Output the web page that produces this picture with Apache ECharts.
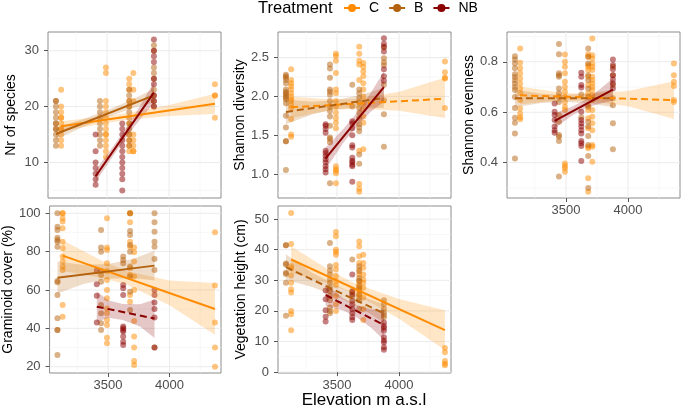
<!DOCTYPE html>
<html><head><meta charset="utf-8">
<script src="https://cdn.jsdelivr.net/npm/echarts@6/dist/echarts.min.js"></script>
<style>html,body{margin:0;padding:0;background:#fff}#c{width:685px;height:409px}</style>
</head><body><div id="c"></div>
<script>
// ---------- DATA ----------
const treatments = ['C', 'B', 'NB'];
const xRange = [3024, 4419];
const xMajor = [3500, 4000];
const xMinor = [3250, 3750, 4250];

// Nr of species
const spC = [[3130,[23,20,19,18,18,17,16,16,15,14,13]],[3491,[27,26,21,20,19,18,17,16,15,15,14,13,12,11]],[3679,[25,24,23,21,20,17,15,14,13,12]],[3712,[26,23,21,15,14,13,12,12]],[4370,[24,22,22,18]]];
const spB = [[3088,[21,21,20,19,18,17,17,16,16,15,14,13]],[3443,[21,20,19,18,17,16,15,14,13]],[3679,[23,22,21,20,19,18,17,16,15,14,13]],[3878,[31,30,27,26,25,23,22,21,20]]];
const spNB = [[3408,[15,12,10,9,8,7,6]],[3623,[17,16,15,14,13,12,11,10,9,8,7,5]],[3878,[32,30,29,28,25,24,22,21,20]]];
const spFitC = [[3130,16.5],[4370,20.5]], spFitB = [[3088,15.1],[3878,22.0]], spFitNB = [[3408,7.55],[3878,22.5]];
const spBandC = [[3130,15.6,17.4],[3450,16.9,18.2],[3650,17.6,18.8],[4000,18.3,20.3],[4370,18.7,22.3]];
const spBandB = [[3088,14.05,16.15],[3300,16.3,17.7],[3500,18.1,19.35],[3700,19.65,21.25],[3878,20.8,23.2]];
const spBandNB = [[3408,6.5,8.6],[3550,11.2,12.9],[3650,14.45,16.0],[3780,18.1,20.6],[3878,20.6,24.4]];
const spYMajor = [10,20,30], spYMinor = [5,15,25], spYRange = [3.65,33.35];

// Shannon diversity
const dvC = [[3130,[2.35,2.21,2.17,2.13,2.09,2.04,2.0,1.96,1.94,1.89,1.85,1.71,1.51,1.48]],[3491,[2.55,2.52,2.46,2.30,2.09,2.04,1.94,1.87,1.79,1.72,1.66,1.59,1.10,1.06,1.04,1.01,0.88]],[3679,[2.64,2.55,2.46,2.41,2.21,1.30,0.87,0.81,0.77]],[3712,[2.43,2.38,2.32,2.26,2.17,2.09,2.0,1.91,1.83,1.74,1.66,1.32]],[4370,[2.45,2.31,2.24,2.23,1.85]]];
const dvB = [[3088,[2.28,2.26,2.24,2.21,2.17,2.09,2.06,2.04,2.02,2.0,1.98,1.96,1.91,1.75,1.60,1.42,1.42,1.05]],[3443,[2.41,2.36,2.24,2.09,2.06,2.02,1.94,1.87,1.81,1.74,1.62,1.47,1.45,1.41,0.88]],[3623,[2.15,1.87]],[3679,[2.09,2.04,1.98,1.92,1.85,1.79,1.72,1.64,1.60,1.55,1.25,1.13]],[3878,[2.63,2.49,2.44,2.40,2.15,1.95,1.77,1.35]]];
const dvNB = [[3408,[1.64,1.62,1.58,1.53,1.30,1.27,1.23,1.19,1.15,1.10,1.06,1.02]],[3623,[1.68,1.65,1.59,1.50,1.37,1.34,1.21,1.17,1.15,1.12,1.10,0.90]],[3878,[2.75,2.68,2.64,2.58,2.35,2.26,2.20]]];
const dvFitC = [[3130,1.86],[4370,1.97]], dvFitB = [[3088,1.80],[3878,1.98]], dvFitNB = [[3408,1.20],[3878,2.12]];
const dvBandC = [[3130,1.72,2.0],[3450,1.82,1.96],[3650,1.845,1.965],[4000,1.815,2.06],[4370,1.72,2.24]];
const dvBandB = [[3088,1.64,1.96],[3300,1.77,1.93],[3480,1.83,1.95],[3700,1.86,2.02],[3878,1.85,2.11]];
const dvBandNB = [[3408,1.06,1.34],[3550,1.40,1.58],[3650,1.60,1.765],[3770,1.80,2.04],[3878,1.93,2.32]];
const dvYMajor = [1.0,1.5,2.0,2.5], dvYMinor = [0.75,1.25,1.75,2.25,2.75], dvYRange = [0.69,2.83];

// Shannon evenness
const evC = [[3130,[0.853,0.796,0.774,0.754,0.734,0.714,0.694,0.675,0.648,0.615,0.595,0.58,0.572]],[3491,[0.829,0.80,0.78,0.754,0.721,0.70,0.681,0.661,0.641,0.622,0.609,0.397,0.387,0.378,0.364]],[3679,[0.83,0.82,0.787,0.78,0.767,0.741,0.708,0.675,0.628,0.609,0.576,0.536,0.463,0.457,0.338,0.285]],[3712,[0.892,0.826,0.813,0.793,0.78,0.767,0.741,0.727,0.714,0.70,0.688,0.668,0.648,0.609,0.582,0.556,0.529,0.47,0.463,0.404]],[4370,[0.793,0.747,0.721,0.704,0.648,0.641]]];
const evB = [[3088,[0.822,0.809,0.793,0.774,0.751,0.74,0.727,0.714,0.70,0.688,0.66,0.617,0.578,0.558,0.516,0.417]],[3443,[0.87,0.83,0.754,0.747,0.741,0.694,0.675,0.661,0.641,0.589,0.562,0.51,0.503,0.486,0.345]],[3623,[0.67,0.58]],[3679,[0.853,0.82,0.793,0.747,0.727,0.694,0.661,0.622,0.562,0.543,0.506,0.47,0.426,0.30]],[3878,[0.78,0.747,0.708,0.655,0.628,0.556,0.453]]];
const evNB = [[3408,[0.635,0.602,0.589,0.569,0.543,0.529,0.519]],[3623,[0.756,0.741,0.708,0.698,0.602,0.569,0.556,0.543,0.529,0.516,0.486,0.477,0.466,0.407]],[3878,[0.809,0.787,0.77,0.747,0.73,0.714,0.694]]];
const evFitC = [[3130,0.667],[4370,0.648]], evFitB = [[3088,0.655],[3878,0.655]], evFitNB = [[3408,0.566],[3878,0.69]];
const evBandC = [[3130,.632,.702],[3450,.646,.678],[3650,.646,.672],[4000,.624,.684],[4370,.573,.723]];
const evBandB = [[3088,.62,.69],[3300,.637,.673],[3480,.642,.668],[3700,.635,.675],[3878,.62,.69]];
const evBandNB = [[3408,.536,.596],[3550,.587,.623],[3650,.615,.647],[3770,.634,.69],[3878,.645,.735]];
const evYMajor = [0.4,0.6,0.8], evYMinor = [0.3,0.5,0.7,0.9], evYRange = [0.26,0.918];

// Graminoid cover
const grC = [[3130,[100,100,97.4,95.7,92.2,85.2,81.7,77.4,74.8,72.2,70.4,52.2,46.1]],[3491,[97.4,82.1,80.9,73.9,69.9,65.2,60,55.7,50.4,47.8,44.3,41.7,35.1,32.2]],[3679,[100,100,95.3,85.2,82.6,71.3,67.8,57.4,53.9]],[3712,[82.1,79.7,74.8,67,60,43.8,35.7,30,23,20.9]],[4370,[90.1,62.3,43.1,30,20]]];
const grB = [[3088,[100,93,91.3,87.3,86.1,85.2,82.6,64.7,64,57.4,45.2,39.1,39.1,26.1]],[3443,[91.3,82.1,80,69.9,67.8,64.3,52.2,47.8,42.6,39.1]],[3623,[77.4,75.7,73.9]],[3679,[100,90.8,88.7,83.5,80,72.2,67,59.1,49.6]],[3878,[100,95.3,90.4,85.2,82.6,76.2,70.4,30]]];
const grNB = [[3408,[70,63,57,43]],[3623,[62.6,60.9,57.4,40.9,40,39.1,38.3,35.7,33,31.3]],[3878,[60,57.4,53.5,50.1,45.6,30]]];
const grFitC = [[3130,77.9],[4370,50.1]], grFitB = [[3088,66.4],[3878,72.7]], grFitNB = [[3408,51.3],[3878,45.1]];
const grBandC = [[3130,69.9,85.9],[3450,66.3,75.3],[3650,62.9,69.9],[4000,52,65],[4370,36.6,63.6]];
const grBandB = [[3088,58.1,74.7],[3300,63.1,73.1],[3500,65.9,73.5],[3700,66.2,76.2],[3878,64.9,80.5]];
const grBandNB = [[3408,43.3,59.3],[3500,45.5,54.7],[3620,44.3,52.7],[3760,40.9,52.5],[3878,35,55]];
const grYMajor = [20,40,60,80,100], grYMinor = [30,50,70,90], grYRange = [16.7,103.8];

// Vegetation height
const vhC = [[3130,[52,41.9,34.6,33.9,31.6,29.2,27.1,26,20,18.9,13.7]],[3491,[45.8,44.4,40,39.3,38.4,35,33.5,31.4,29.8,28.5,24.9,22.2,20]],[3679,[42.7,41.1,37.9,35.7,33.5,31.9,29.8,28.7,27.6,26.5,25.4,24.4]],[3712,[38.4,35.7,34.1,31.9,30.3,29.2,27.6,24.4,20.6,17]],[4370,[7.9,6.5,3.6,2.7,2.2]]];
const vhB = [[3088,[41.5,41.5,35.5,35.2,32.5,32.1,29.2,18.4]],[3443,[42.2,34.6,33.2,31.9,30.3,29.2,27.6,26.5,24.9,23.5,21.1,20,19.2]],[3623,[36.8,26.5,24.9]],[3679,[34.6,33,30.8,29.8,28.1,27.1,25.4,23.5,20.6]],[3878,[23.5,22.2,20.6,19.5,18.7,17.9]]];
const vhNB = [[3408,[26.7,23.8,20.2,18.1,16.5]],[3623,[31.9,26.3,25.4,23.3,22.2,20.6,19.2,17.9,17]],[3878,[16.2,15.1,14.4,13.5,11.4,10.3,9.7,8.1,7.3]]];
const vhFitC = [[3130,36.8],[4370,13.7]], vhFitB = [[3088,34.3],[3878,19.2]], vhFitNB = [[3408,25.2],[3878,15.4]];
const vhBandC = [[3130,32.5,41.1],[3450,28.65,33.05],[3650,25.45,28.85],[4000,17.47,23.87],[4370,7.2,20.2]];
const vhBandB = [[3088,30.1,38.5],[3300,27.84,32.44],[3500,24.61,28.21],[3700,20.69,24.69],[3878,16.2,22.2]];
const vhBandNB = [[3408,21.6,28.8],[3550,20.14,24.14],[3650,18.2,22],[3770,14.65,20.65],[3878,10.5,20.3]];
const vhYMajor = [0,10,20,30,40,50], vhYMinor = [5,15,25,35,45], vhYRange = [-0.3,54.3];

const panelNames = ['Nr of species','Shannon diversity','Shannon evenness','Graminoid cover (%)','Vegetation height (cm)'];

// ---------- ASSEMBLY ----------
const panels = [
  {pts:{C:spC,B:spB,NB:spNB}, fit:{C:spFitC,B:spFitB,NB:spFitNB}, band:{C:spBandC,B:spBandB,NB:spBandNB}, dashed:{C:false,B:false,NB:false}, yr:spYRange, maj:spYMajor, min:spYMinor, dec:0},
  {pts:{C:dvC,B:dvB,NB:dvNB}, fit:{C:dvFitC,B:dvFitB,NB:dvFitNB}, band:{C:dvBandC,B:dvBandB,NB:dvBandNB}, dashed:{C:true,B:true,NB:false}, yr:dvYRange, maj:dvYMajor, min:dvYMinor, dec:1},
  {pts:{C:evC,B:evB,NB:evNB}, fit:{C:evFitC,B:evFitB,NB:evFitNB}, band:{C:evBandC,B:evBandB,NB:evBandNB}, dashed:{C:true,B:true,NB:false}, yr:evYRange, maj:evYMajor, min:evYMinor, dec:1},
  {pts:{C:grC,B:grB,NB:grNB}, fit:{C:grFitC,B:grFitB,NB:grFitNB}, band:{C:grBandC,B:grBandB,NB:grBandNB}, dashed:{C:false,B:false,NB:true}, yr:grYRange, maj:grYMajor, min:grYMinor, dec:0},
  {pts:{C:vhC,B:vhB,NB:vhNB}, fit:{C:vhFitC,B:vhFitB,NB:vhFitNB}, band:{C:vhBandC,B:vhBandB,NB:vhBandNB}, dashed:{C:false,B:true,NB:true}, yr:vhYRange, maj:vhYMajor, min:vhYMinor, dec:0}
];

// layout & style
const layout = [
  {left:48, top:32, width:173, height:166, xlab:false},
  {left:278, top:32, width:173, height:166, xlab:false},
  {left:507, top:32, width:173, height:166, xlab:true},
  {left:48, top:206, width:173, height:167, xlab:true},
  {left:278, top:206, width:173, height:167, xlab:true}
];
const colors = {C:'#FF8C00', B:'#B5620F', NB:'#8B0000'};
const bandAlpha = 0.22;
const FONT = 'Liberation Sans, Arial, sans-serif';
function hexA(hex, a){const n=parseInt(hex.slice(1),16);return `rgba(${n>>16&255},${n>>8&255},${n&255},${a})`;}

const grids=[], xAxes=[], yAxes=[], series=[];
// legend dummy series
treatments.forEach(t => series.push({type:'line', name:t, data:[], xAxisIndex:0, yAxisIndex:0, symbol:'circle', symbolSize:5,
  lineStyle:{color:colors[t], width:2}, itemStyle:{color:colors[t]}}));

panels.forEach((p, i) => {
  const L = layout[i];
  grids.push({left:L.left, top:L.top, width:L.width, height:L.height, show:true, borderColor:'#8c8c8c', borderWidth:1, backgroundColor:'#fff'});
  xAxes.push({type:'value', gridIndex:i, min:xRange[0], max:xRange[1], axisLine:{show:false}, splitLine:{show:false},
    axisTick:{show:L.xlab, length:4, lineStyle:{color:'#555'}, customValues:xMajor},
    axisLabel:{show:L.xlab, customValues:xMajor, color:'#4D4D4D', fontSize:13, margin:6, fontFamily:FONT,
      formatter: v => String(Math.round(v))}});
  yAxes.push({type:'value', gridIndex:i, min:p.yr[0], max:p.yr[1], axisLine:{show:false}, splitLine:{show:false},
    name:panelNames[i], nameLocation:'middle', nameRotate:90, nameGap:30,
    nameTextStyle:{fontSize:14, color:'#000', fontFamily:FONT},
    axisTick:{show:true, length:4, lineStyle:{color:'#555'}, customValues:p.maj},
    axisLabel:{customValues:p.maj, color:'#4D4D4D', fontSize:13, margin:9, fontFamily:FONT,
      formatter: v => p.dec ? v.toFixed(p.dec) : String(Math.round(v))}});
  // gridlines
  const gdata = [];
  xMinor.forEach(v => gdata.push([0, v, 1]));
  p.min.forEach(v => gdata.push([1, v, 1]));
  xMajor.forEach(v => gdata.push([0, v, 0]));
  p.maj.forEach(v => gdata.push([1, v, 0]));
  series.push({type:'custom', xAxisIndex:i, yAxisIndex:i, z:0, silent:true, data:gdata,
    renderItem:(params, api) => {
      const dir=api.value(0), v=api.value(1), minor=api.value(2);
      const a = dir===0 ? api.coord([v, p.yr[0]]) : api.coord([xRange[0], v]);
      const b = dir===0 ? api.coord([v, p.yr[1]]) : api.coord([xRange[1], v]);
      return {type:'line', shape:{x1:a[0],y1:a[1],x2:b[0],y2:b[1]}, style:{stroke: minor ? '#F4F4F4' : '#EBEBEB', lineWidth: minor ? 0.6 : 1}};
    }});
  // points
  treatments.forEach(t => {
    series.push({type:'scatter', name:t, xAxisIndex:i, yAxisIndex:i, z:2, symbolSize:6,
      data: p.pts[t].flatMap(([x, ys]) => ys.map(y => [x, y])),
      itemStyle:{color:colors[t], opacity:0.5}});
  });
  // bands + lines
  treatments.forEach(t => {
    const band = p.band[t];
    series.push({type:'custom', name:t, xAxisIndex:i, yAxisIndex:i, z:3, silent:true, data:band,
      renderItem:(params, api) => {
        if (params.dataIndex !== 0) return null;
        const pts = band.map(r => api.coord([r[0], r[2]])).concat(band.slice().reverse().map(r => api.coord([r[0], r[1]])));
        return {type:'polygon', shape:{points:pts}, style:{fill:hexA(colors[t], bandAlpha)}};
      }});
    series.push({type:'line', name:t, xAxisIndex:i, yAxisIndex:i, z:4, data:p.fit[t], showSymbol:false, symbol:'none', silent:true,
      lineStyle:{color:colors[t], width:2, type: p.dashed[t] ? [7,4] : 'solid'}});
  });
});

const chart = echarts.init(document.getElementById('c'), null, {renderer:'canvas'});
chart.setOption({
  animation:false,
  grid:grids, xAxis:xAxes, yAxis:yAxes, series:series,
  legend:{data:treatments, left:343, top:1, padding:0, itemWidth:16, itemHeight:10, itemGap:9, selectedMode:false,
    textStyle:{fontSize:14, color:'#000', fontFamily:FONT, padding:[0,0,0,4]}},
  graphic:[
    {type:'text', x:258, y:8, style:{text:'Treatment', fontSize:16.5, fontFamily:FONT, fill:'#000', textVerticalAlign:'middle', textAlign:'left'}},
    {type:'text', x:364, y:400, style:{text:'Elevation m a.s.l', fontSize:17, fontFamily:FONT, fill:'#000', textVerticalAlign:'middle', textAlign:'center'}}
  ]
});
</script></body></html>
